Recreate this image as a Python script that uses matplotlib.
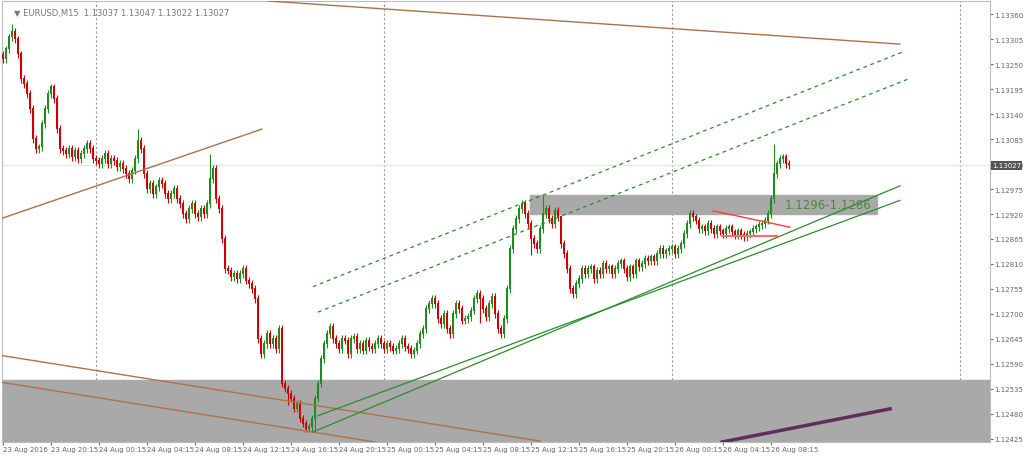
import numpy as np
import matplotlib.pyplot as plt

# closes in points above 1.12000 (1 point = 0.00001), one per 15-minute bar from 23 Aug 16:15
close_pts = [
    1261, 1283, 1309, 1322, 1305,
    1272, 1217, 1206, 1184, 1151,
    1085, 1063, 1067, 1118,
    1151, 1184, 1199, 1173,
    1107, 1063, 1059,
    1052, 1063, 1045, 1059, 1041, 1052, 1063, 1074, 1063, 1041, 1037,
    1030, 1041, 1052, 1030, 1041, 1037, 1023, 1030, 1019, 1008, 997, 1015,
    1041, 1081, 1063, 1008,
    975, 986, 964, 979, 993, 986, 964, 953,
    964, 975, 953, 942, 920, 909, 931, 942, 920, 913,
    931, 920, 942, 997, 1019, 953, 931,
    865, 799, 795, 781, 788, 777,
    788, 799, 773, 766, 755, 733, 645, 612, 634,
    656, 634, 645, 623, 667, 546, 535,
    524, 513, 491, 502, 469, 458, 447, 451, 469,
    513, 546, 601, 634, 656, 671, 645,
    634, 623, 645, 641, 612, 645, 649, 623, 634, 619, 641, 627, 623, 634, 645,
    634, 623, 634, 627, 619, 623, 634, 645, 627, 623, 612, 619, 634, 656, 667,
    711, 722, 733, 722, 689, 678, 700, 667, 656, 700, 722, 711, 685,
    689, 693, 707, 733, 744, 733, 711, 693, 722, 737,
    700, 667, 656, 689, 755, 843, 887,
    909, 931, 942, 920, 898, 865, 854, 843,
    887, 920, 931, 909, 898, 927, 913, 854,
    832, 799, 755, 744, 766, 777, 799,
    788, 799, 803, 777, 795, 788, 810, 799, 803, 788, 799, 810, 816,
    799, 781, 803, 788, 816, 803, 810, 821, 816,
    825, 816, 832, 843, 832, 838, 843, 847, 832, 843, 854,
    876, 898, 920, 913, 905, 887,
    891, 882, 898, 887, 876, 891, 882, 876, 887, 891, 880, 874, 882, 874, 869, 876, 880, 887,
    891, 896, 898, 905, 920,
    953, 1008, 1030, 1041, 1045, 1030, 1027,
]
# notable wick extremes (bar index -> points)
spike_high = {3: 1338, 45: 1107, 69: 1052, 186: 865, 180: 962, 257: 1074}
spike_low = {104: 443, 95: 500, 159: 680, 176: 830}

zone_top = (962, 920)
zone_bottom = (555, 300)
zone_label = "1.1296-1.1286"
last_price = "1.13027"
title = "EURUSD,M15  1.13037 1.13047 1.13022 1.13027"
ytick_pts = [1360, 1305, 1250, 1195, 1140, 1085, 1030, 975, 920, 865, 810, 755, 700, 645, 590, 535, 480, 425]
xtick_labels = ["23 Aug 2016", "23 Aug 20:15", "24 Aug 00:15", "24 Aug 04:15", "24 Aug 08:15",
                "24 Aug 12:15", "24 Aug 16:15", "24 Aug 20:15", "25 Aug 00:15", "25 Aug 04:15",
                "25 Aug 08:15", "25 Aug 12:15", "25 Aug 16:15", "25 Aug 20:15", "26 Aug 00:15",
                "26 Aug 04:15", "26 Aug 08:15"]
day_breaks = [31, 127, 223, 319]


def px(p):
    return 1.12 + np.asarray(p) * 1e-5


c = px(close_pts)
o = np.r_[c[0] + 0.0001, c[:-1]]
n = len(c)
idx = np.arange(n)
hi = np.maximum(o, c) + 0.00008
lo = np.minimum(o, c) - 0.00008
for k, v in spike_high.items():
    hi[k] = px(v)
for k, v in spike_low.items():
    lo[k] = px(v)

fig = plt.figure(figsize=(10.24, 4.6), dpi=100)
ax = fig.add_axes([2 / 1024, 17 / 460, 988 / 1024, 441 / 460])
ax.set_xlim(-0.33, 329)
ax.set_ylim(px(418), px(1389))

up = c >= o
col = np.where(up, "#1e8c1e", "#d00000")
ax.vlines(idx, lo, hi, colors=col, lw=0.8, zorder=3)
ax.bar(idx, np.abs(c - o) + 0.00002, bottom=np.minimum(o, c), width=0.65, color=col, zorder=3)

ax.axhspan(px(zone_bottom[1]), px(zone_bottom[0]), color="#a9a9a9", zorder=1)
ax.fill_between([175.7, 291.3], px(zone_top[1]), px(zone_top[0]), color="#a9a9a9", zorder=1)
ax.text(260.5, px(941), zone_label, color="#4a8a3a", fontsize=8.5, va="center", zorder=5)

for d in day_breaks:
    ax.axvline(d, color="#999999", lw=0.8, ls=(0, (2, 2)), zorder=0)
ax.axhline(c[-1], color="#e6e6e6", lw=1, zorder=0)

brown = "#b0704a"
ax.plot([88.3, 299], px([1389, 1294]), color=brown, lw=1, zorder=4)
ax.plot([-1, 86.3], px([909, 1107]), color=brown, lw=1, zorder=4)
ax.plot([-1, 124], px([550, 418]), color=brown, lw=1, zorder=4)
ax.plot([-1, 179], px([609, 420]), color=brown, lw=1, zorder=4)

green = "#2e8b2e"
ax.plot([103.3, 299], px([440, 982]), color=green, lw=0.9, zorder=4)
ax.plot([105, 299], px([476, 950]), color=green, lw=0.9, zorder=4)
ax.plot([103.3, 300.7], px([760, 1279]), color=green, lw=0.9, ls=(0, (3, 3)), zorder=4)
ax.plot([105, 301.7], px([704, 1217]), color=green, lw=0.9, ls=(0, (3, 3)), zorder=4)

ax.plot([236.7, 262.3], px([927, 891]), color="#ff3b3b", lw=1, zorder=5)
ax.plot([239.7, 258], px([871, 871]), color="#ff6a6a", lw=1.5, zorder=5)
ax.plot([239.7, 295.7], px([418, 491]), color="#5e2e5e", lw=2.5, zorder=5)

ax.yaxis.tick_right()
ax.set_yticks(px(ytick_pts))
ax.set_yticklabels([f"{v:.5f}" for v in px(ytick_pts)])
ax.set_xticks(np.arange(len(xtick_labels)) * 16)
ax.set_xticklabels(xtick_labels, ha="left")
ax.tick_params(labelsize=5, colors="#666666", length=2, pad=1)
for s in ax.spines.values():
    s.set_color("#bbbbbb")
ax.text(1.002, (c[-1] - px(418)) / (px(1389) - px(418)), last_price, transform=ax.transAxes,
        fontsize=5, color="white", va="center", bbox=dict(fc="#555555", ec="none", pad=0.8))
ax.text(0.012, 0.985, "\u25bc " + title, transform=ax.transAxes, fontsize=6, color="#777777", va="top")

fig.savefig("out.png", dpi=100)
